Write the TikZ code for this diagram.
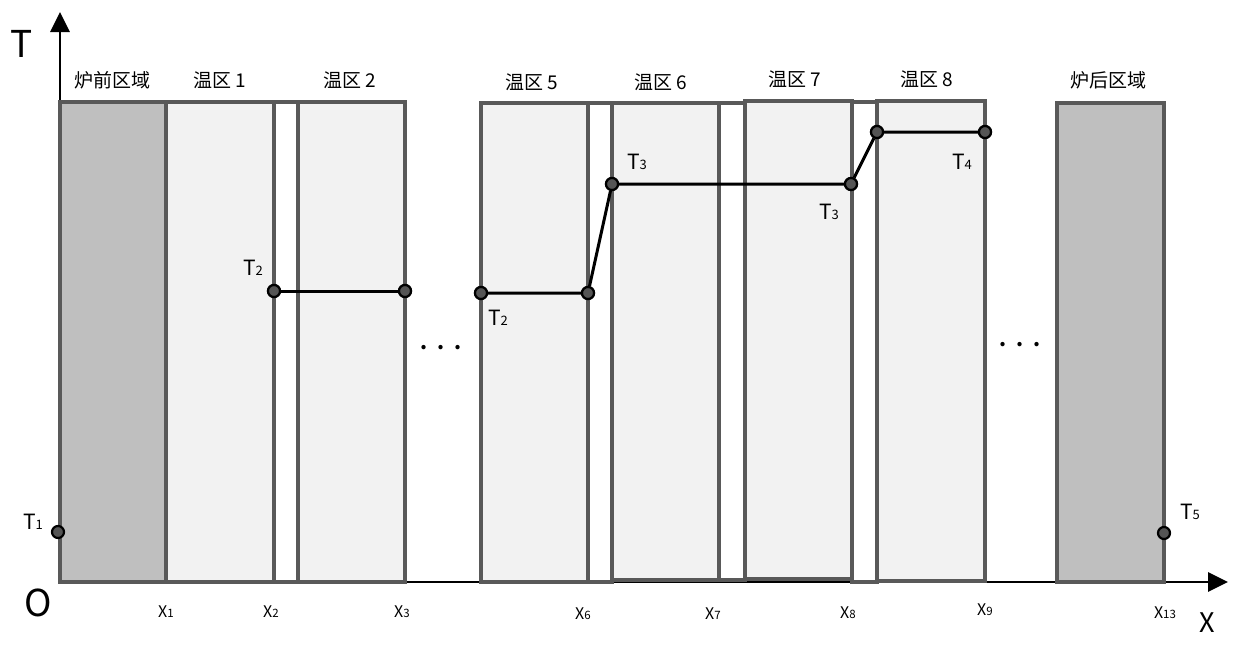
\documentclass[tikz,border=0pt]{standalone}
\usepackage{fontspec}
\setmainfont{Noto Sans CJK SC}
\usetikzlibrary{arrows.meta}
\definecolor{edge}{HTML}{595959}
\definecolor{dgray}{HTML}{BFBFBF}
\definecolor{lgray}{HTML}{F2F2F2}
\definecolor{dotc}{HTML}{555555}
\newcommand\Tsub[1]{T{\fontsize{13pt}{13pt}\selectfont #1}}
\newcommand\Xsub[1]{X{\fontsize{11.5pt}{11.5pt}\selectfont #1}}
\begin{document}
\begin{tikzpicture}[x=1pt,y=-1pt,
  box/.style={draw=edge,line width=3.2pt},
  furnace/.style={box,fill=dgray},
  zone/.style={box,fill=lgray},
  gapbox/.style={box,fill=white},
  axisline/.style={line width=2.8pt,-{Triangle[length=20pt,width=19pt]}},
  pt/.style={circle,fill=dotc,draw=black,line width=2.2pt,inner sep=0pt,minimum size=12pt},
  seg/.style={line width=3pt,black},
  zlabel/.style={font=\fontsize{19pt}{19pt}\selectfont,inner sep=0pt},
  tlabel/.style={font=\fontsize{21pt}{21pt}\selectfont,inner sep=0pt},
  xlabel/.style={font=\fontsize{16pt}{16pt}\selectfont,inner sep=0pt},
  biglabel/.style={font=\fontsize{37pt}{37pt}\selectfont,inner sep=0pt},
  ellip/.style={inner sep=0pt,font=\bfseries\fontsize{20pt}{20pt}\selectfont}
]
\useasboundingbox (0,0) rectangle (1233,645);
% axes
\coordinate (O) at (60,582);
\coordinate (ytip) at (60,12);
\coordinate (xtip) at (1228,582);
\draw[axisline] (O) -- (ytip);
\draw[axisline] (O) -- (xtip);
% boxes
\draw[furnace] (60,102) rectangle (166,582);
\draw[zone] (166,102) rectangle (274,582);
\draw[gapbox] (274,102) rectangle (298,582);
\draw[zone] (298,102) rectangle (405,582);
\draw[zone] (481,103) rectangle (588,582);
\draw[gapbox] (588,103) rectangle (612,582);
\draw[zone] (612,103) rectangle (719,580);
\draw[gapbox] (719,103) rectangle (745,580);
\draw[zone] (745,101) rectangle (852,579);
\draw[gapbox] (852,102) rectangle (877,582);
\draw[zone] (877,101) rectangle (985,581);
\draw[furnace] (1057,103) rectangle (1164,582);
% zone labels
\node[zlabel] (zf) at (112,80) {炉前区域};
\node[zlabel] (z1) at (220,80) {温区 1};
\node[zlabel] (z2) at (350,80) {温区 2};
\node[zlabel] (z5) at (532,82) {温区 5};
\node[zlabel] (z6) at (661,82) {温区 6};
\node[zlabel] (z7) at (795,79) {温区 7};
\node[zlabel] (z8) at (927,79) {温区 8};
\node[zlabel] (zr) at (1108,80) {炉后区域};
% axis labels
\node[biglabel] (lT) at (22,44) {T};
\node[biglabel] (lO) at (38,603) {O};
\node[biglabel,font=\fontsize{27pt}{27pt}\selectfont] (lX) at (1207,623) {X};
% x labels
\node[xlabel] (x1) at (166,612) {\Xsub{1}};
\node[xlabel] (x2) at (271,612) {\Xsub{2}};
\node[xlabel] (x3) at (402,612) {\Xsub{3}};
\node[xlabel] (x6) at (583,614) {\Xsub{6}};
\node[xlabel] (x7) at (713,614) {\Xsub{7}};
\node[xlabel] (x8) at (848,613) {\Xsub{8}};
\node[xlabel] (x9) at (985,610) {\Xsub{9}};
\node[xlabel] (x13) at (1165,613) {\Xsub{13}};
% ellipses
\node[ellip] (e1) at (441,348) {.\hspace{10pt}.\hspace{10pt}.};
\node[ellip] (e2) at (1020,345) {.\hspace{10pt}.\hspace{10pt}.};
% dots
\node[pt] (p1) at (58,532) {};
\node[pt] (p2) at (274,291) {};
\node[pt] (p3) at (405,291) {};
\node[pt] (p4) at (481,293) {};
\node[pt] (p5) at (588,293) {};
\node[pt] (p6) at (612,184) {};
\node[pt] (p7) at (851,184) {};
\node[pt] (p8) at (877,132) {};
\node[pt] (p9) at (985,132) {};
\node[pt] (p10) at (1164,533) {};
% segments
\draw[seg] (p2) -- (p3);
\draw[seg] (p4) -- (p5) -- (p6) -- (p7) -- (p8) -- (p9);
% redraw dots on top of the segments
\foreach \n in {p2,p3,p4,p5,p6,p7,p8,p9}
  \node[pt] at (\n) {};
% T labels
\node[tlabel] (t1) at (33,522) {\Tsub{1}};
\node[tlabel] (t2a) at (253,268) {\Tsub{2}};
\node[tlabel] (t2b) at (498,318) {\Tsub{2}};
\node[tlabel] (t3a) at (637,162) {\Tsub{3}};
\node[tlabel] (t3b) at (829,212) {\Tsub{3}};
\node[tlabel] (t4) at (962,162) {\Tsub{4}};
\node[tlabel] (t5) at (1190,512) {\Tsub{5}};
\end{tikzpicture}
\end{document}
